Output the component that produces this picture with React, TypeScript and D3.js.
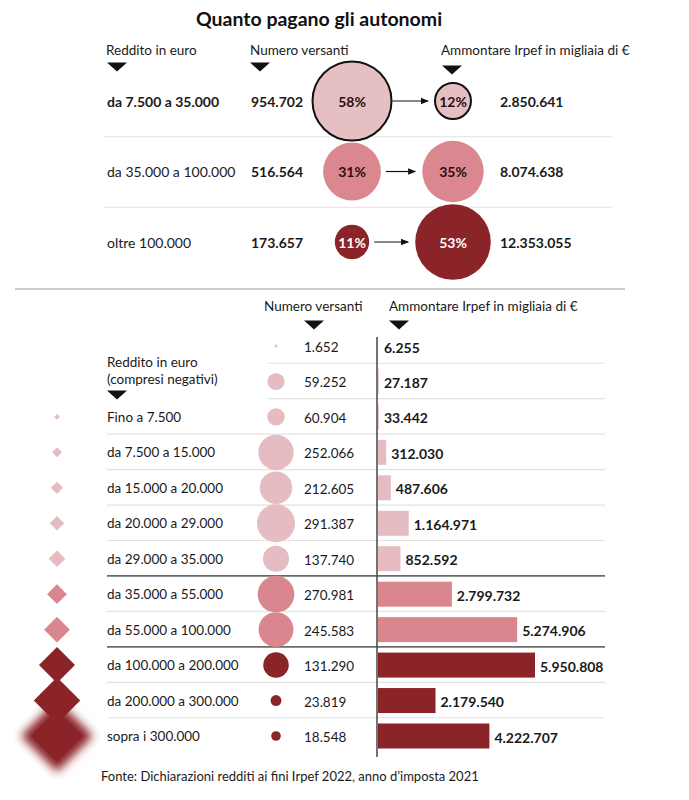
import React from "react";
import * as d3 from "d3";

// ---------- DATA ----------
const title = "Quanto pagano gli autonomi";
const topLabels = ["da 7.500 a 35.000", "da 35.000 a 100.000", "oltre 100.000"];
const topVersanti = [954702, 516564, 173657];
const topVersantiPct = [58, 31, 11];
const topIrpef = [2850641, 8074638, 12353055];
const topIrpefPct = [12, 35, 53];

const bottomLabels: (string | null)[] = [
  null, null,
  "Fino a 7.500", "da 7.500 a 15.000", "da 15.000 a 20.000", "da 20.000 a 29.000",
  "da 29.000 a 35.000", "da 35.000 a 55.000", "da 55.000 a 100.000",
  "da 100.000 a 200.000", "da 200.000 a 300.000", "sopra i 300.000",
];
const bottomVersanti = [1652, 59252, 60904, 252066, 212605, 291387, 137740, 270981, 245583, 131290, 23819, 18548];
const bottomIrpef = [6255, 27187, 33442, 312030, 487606, 1164971, 852592, 2799732, 5274906, 5950808, 2179540, 4222707];
const bottomGroup = [0, 0, 0, 0, 0, 0, 0, 1, 1, 2, 2, 2];
const diamondIncome: (number | null)[] = [null, null, 3750, 11250, 17500, 24500, 32000, 45000, 77500, 150000, 250000, 600000];

const source = "Fonte: Dichiarazioni redditi ai fini Irpef 2022, anno d\u2019imposta 2021";

// ---------- STYLE ----------
const FONT = "Lato, 'Open Sans', sans-serif";
const groupColors = ["#e5bcc1", "#da868e", "#8a2428"];
const topColors = ["#e6bfc3", "#da878f", "#8a2428"];
const textDark = "#1a1a1a";
const FS = 13.5;

const loc = d3.formatLocale({ decimal: ",", thousands: ".", grouping: [3], currency: ["€", ""] });
const fmt = loc.format(",d");

function Tri({ x, y, w = 20, h = 9 }: { x: number; y: number; w?: number; h?: number }) {
  return <path d={`M${x - w / 2},${y - h / 2}L${x + w / 2},${y - h / 2}L${x},${y + h / 2}Z`} fill="#111" />;
}

const diamond = (cx: number, cy: number, s: number) => `M${cx},${cy - s}L${cx + s},${cy}L${cx},${cy + s}L${cx - s},${cy}Z`;

export default function App() {
  const W = 689, H = 800;

  // top section scales
  const topY = d3.scalePoint<number>().domain([0, 1, 2]).range([101, 242]);
  const rTop = d3.scaleSqrt().domain([0, 58]).range([0, 39.5]);
  const cxL = 352, cxR = 453;

  // bottom section scales
  const rowIdx = bottomVersanti.map((_, i) => i);
  const yB = d3.scalePoint<number>().domain(rowIdx).range([346, 736]);
  const rowStep = yB.step();
  const rB = d3.scaleSqrt().domain([0, 291387]).range([0, 19]);
  const barX0 = 378;
  const xBar = d3.scaleLinear().domain([0, 5950808]).range([0, 157]);
  const dScale = d3.scaleSqrt().domain([0, 150000]).range([0, 18]);

  const lineL = 107, lineR = 605;

  return (
    <svg width={W} height={H} style={{ position: "absolute", left: 0, top: 0, background: "#fff" }} fontFamily={FONT}>
      <defs>
        <filter id="blurD" x="-50%" y="-50%" width="200%" height="200%">
          <feGaussianBlur stdDeviation="5" />
        </filter>
        <marker id="arr" viewBox="0 0 10 10" refX="9" refY="5" markerWidth="8" markerHeight="8" orient="auto" markerUnits="userSpaceOnUse">
          <path d="M0,1L10,5L0,9Z" fill="#111" />
        </marker>
      </defs>

      {/* Title */}
      <text x={319} y={26} textAnchor="middle" fontSize={19.5} fontWeight={700} fill="#111">{title}</text>

      {/* Top headers */}
      <text x={106} y={55} fontSize={FS} fill={textDark}>Reddito in euro</text>
      <Tri x={117} y={67} />
      <text x={250} y={55} fontSize={FS} fill={textDark}>Numero versanti</text>
      <Tri x={260} y={67} />
      <text x={441} y={55} fontSize={FS} fill={textDark}>Ammontare Irpef in migliaia di €</text>
      <Tri x={452} y={70} />

      {/* Top separators */}
      {[0, 1].map((i) => {
        const y = (topY(i)! + topY(i + 1)!) / 2 + 0.5;
        return <line key={i} x1={104} x2={612} y1={y} y2={y} stroke="#e2e2e2" strokeWidth={1.2} />;
      })}

      {/* Top rows */}
      {topLabels.map((lab, i) => {
        const y = topY(i)!;
        const r1 = rTop(topVersantiPct[i]);
        const r2 = rTop(topIrpefPct[i]);
        const stroke = i === 0 ? "#111" : "none";
        const pctFill = i === 2 ? "#fff" : "#2a0e10";
        return (
          <g key={i}>
            <text x={107} y={y} dominantBaseline="central" fontSize={14} fontWeight={i === 0 ? 700 : 400} fill={textDark}>{lab}</text>
            <text x={251} y={y} dominantBaseline="central" fontSize={14} fontWeight={700} fill={textDark}>{fmt(topVersanti[i])}</text>
            <circle cx={cxL} cy={y} r={r1} fill={topColors[i]} stroke={stroke} strokeWidth={2} />
            <text x={cxL} y={y} textAnchor="middle" dominantBaseline="central" fontSize={14} fontWeight={700} fill={pctFill}>{topVersantiPct[i]}%</text>
            <line x1={cxL + r1 + (i === 0 ? 1 : 5)} x2={cxR - r2 - 7} y1={y} y2={y} stroke="#111" strokeWidth={1.2} markerEnd="url(#arr)" />
            <circle cx={cxR} cy={y} r={r2} fill={topColors[i]} stroke={stroke} strokeWidth={2} />
            <text x={cxR} y={y} textAnchor="middle" dominantBaseline="central" fontSize={14} fontWeight={700} fill={pctFill}>{topIrpefPct[i]}%</text>
            <text x={500} y={y} dominantBaseline="central" fontSize={14} fontWeight={700} fill={textDark}>{fmt(topIrpef[i])}</text>
          </g>
        );
      })}

      {/* Section divider */}
      <line x1={15} x2={625} y1={289} y2={289} stroke="#9a9a9a" strokeWidth={1.2} />

      {/* Bottom headers */}
      <text x={264} y={311} fontSize={FS} fill={textDark}>Numero versanti</text>
      <Tri x={314} y={325} />
      <text x={389} y={311} fontSize={FS} fill={textDark}>Ammontare Irpef in migliaia di €</text>
      <Tri x={399} y={325} />
      <text x={107} y={367} fontSize={FS} fill={textDark}>Reddito in euro</text>
      <text x={107} y={384} fontSize={FS} fill={textDark}>(compresi negativi)</text>
      <Tri x={117} y={395} />

      {/* Bottom row separators */}
      {rowIdx.slice(0, -1).map((i) => {
        const y = yB(i)! + rowStep / 2 - 0.5;
        const strong = bottomGroup[i] !== bottomGroup[i + 1];
        const x1 = bottomLabels[i] !== null ? lineL : 268;
        return (
          <line key={i} x1={strong ? lineL : x1} x2={lineR} y1={y} y2={y}
            stroke={strong ? "#6b6b6b" : "#e2e2e2"} strokeWidth={strong ? 1.8 : 1.2} />
        );
      })}

      {/* Bars */}
      {rowIdx.map((i) => {
        const y = yB(i)!;
        const w = xBar(bottomIrpef[i]);
        return (
          <g key={"b" + i}>
            <rect x={barX0} y={y - 12.5} width={w} height={25} fill={groupColors[bottomGroup[i]]} />
            <text x={Math.max(barX0 + w + 5, 384)} y={y + 1} dominantBaseline="central" fontSize={14} fontWeight={700} fill={textDark}>
              {fmt(bottomIrpef[i])}
            </text>
          </g>
        );
      })}

      {/* Vertical axis line */}
      <line x1={377} x2={377} y1={337} y2={757} stroke="#444" strokeWidth={1.5} />

      {/* Circles + numbers */}
      {rowIdx.map((i) => {
        const y = yB(i)!;
        return (
          <g key={"c" + i}>
            <circle cx={276} cy={y} r={rB(bottomVersanti[i])} fill={groupColors[bottomGroup[i]]} />
            <text x={304} y={y + 1} dominantBaseline="central" fontSize={FS} fill={textDark}>{fmt(bottomVersanti[i])}</text>
          </g>
        );
      })}

      {/* Labels + diamonds */}
      {rowIdx.map((i) => {
        const lab = bottomLabels[i];
        const inc = diamondIncome[i];
        if (!lab || inc === null) return null;
        const y = yB(i)!;
        const s = dScale(inc);
        const last = i === rowIdx.length - 1;
        const col = groupColors[bottomGroup[i]];
        return (
          <g key={"l" + i}>
            {last ? (
              <g>
                <path d={diamond(57, y, s)} fill={col} filter="url(#blurD)" />
                <path d={diamond(57, y, s * 0.72)} fill={col} />
              </g>
            ) : (
              <path d={diamond(57, y, s)} fill={col} />
            )}
            <text x={107} y={y} dominantBaseline="central" fontSize={FS} fill={textDark}>{lab}</text>
          </g>
        );
      })}

      {/* Source */}
      <text x={101} y={781} fontSize={13} fill={textDark}>{source}</text>
    </svg>
  );
}
